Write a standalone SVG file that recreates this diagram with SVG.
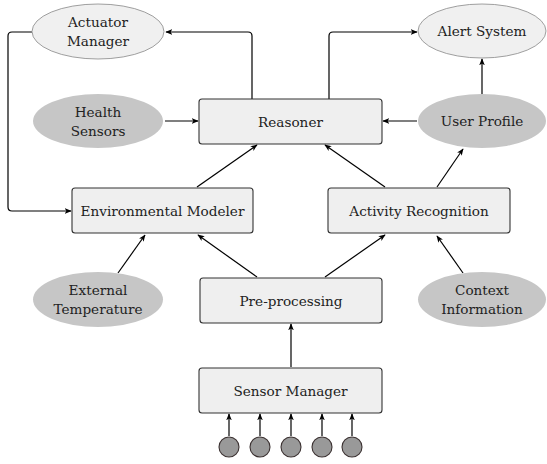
<svg xmlns="http://www.w3.org/2000/svg" width="547" height="464" viewBox="0 0 547 464">
<defs>
<marker id="ah" viewBox="0 0 10 10" refX="9" refY="5" markerWidth="7" markerHeight="7" markerUnits="userSpaceOnUse" orient="auto">
<path d="M0,1 L10,5 L0,9 L2.5,5 Z" fill="#000"/>
</marker>
<style>
.box{fill:#efefef;stroke:#333;stroke-width:1.1}
.el{fill:#f0f0f0;stroke:#888;stroke-width:0.8}
.dk{fill:#c6c6c6;stroke:none}
.dot{fill:#999;stroke:#3a3030;stroke-width:1.1}
.t{font-family:"DejaVu Serif","Liberation Serif",serif;font-size:13.6px;fill:#222;text-anchor:middle;dominant-baseline:central}
.c{fill:none;stroke:#000;stroke-width:1.2;marker-end:url(#ah)}
</style>
</defs>
<g id="connectors">
<path class="c" d="M252,99 V36 Q252,32 248,32 H166"/>
<path class="c" d="M329,99 V36 Q329,32 333,32 H417"/>
<path class="c" d="M32,32 H12 Q8,32 8,36 V207 Q8,211 12,211 H71"/>
<path class="c" d="M165,121 H198"/>
<path class="c" d="M417,121 H383"/>
<path class="c" d="M482,95 V59"/>
<path class="c" d="M197,187 L257,145"/>
<path class="c" d="M385,187 L325,145"/>
<path class="c" d="M437,187 L463,149"/>
<path class="c" d="M118,273 L145,235"/>
<path class="c" d="M257,277 L198,235"/>
<path class="c" d="M325,277 L385,235"/>
<path class="c" d="M463,273 L437,236"/>
<path class="c" d="M291,367 V324"/>
<path class="c" d="M229,436 V414"/>
<path class="c" d="M260,436 V414"/>
<path class="c" d="M291,436 V414"/>
<path class="c" d="M322,436 V414"/>
<path class="c" d="M352,436 V414"/>
</g>
<g id="actuator-manager"><ellipse class="el" cx="98" cy="31.5" rx="66" ry="27.5"/><text class="t" x="98" y="22">Actuator</text><text class="t" x="98" y="41">Manager</text></g>
<g id="alert-system"><ellipse class="el" cx="482" cy="31" rx="64" ry="27"/><text class="t" x="482" y="31">Alert System</text></g>
<g id="health-sensors"><ellipse class="dk" cx="98" cy="121" rx="65" ry="27"/><text class="t" x="98" y="112">Health</text><text class="t" x="98" y="131">Sensors</text></g>
<g id="reasoner"><rect class="box" x="199" y="99" width="183" height="45" rx="3"/><text class="t" x="290.5" y="121.5">Reasoner</text></g>
<g id="user-profile"><ellipse class="dk" cx="482" cy="121" rx="64" ry="27"/><text class="t" x="482" y="121">User Profile</text></g>
<g id="environmental-modeler"><rect class="box" x="72" y="188" width="181" height="45" rx="3"/><text class="t" x="162.5" y="210.5">Environmental Modeler</text></g>
<g id="activity-recognition"><rect class="box" x="328" y="188" width="182" height="45" rx="3"/><text class="t" x="419" y="210.5">Activity Recognition</text></g>
<g id="external-temperature"><ellipse class="dk" cx="98" cy="299.5" rx="65" ry="27.5"/><text class="t" x="98" y="290">External</text><text class="t" x="98" y="309">Temperature</text></g>
<g id="pre-processing"><rect class="box" x="200" y="278" width="182" height="45" rx="3"/><text class="t" x="291" y="300.5">Pre-processing</text></g>
<g id="context-information"><ellipse class="dk" cx="482" cy="299.5" rx="64" ry="27.5"/><text class="t" x="482" y="290">Context</text><text class="t" x="482" y="309">Information</text></g>
<g id="sensor-manager"><rect class="box" x="199" y="368" width="183" height="45" rx="3"/><text class="t" x="290.5" y="390.5">Sensor Manager</text></g>
<g id="sensors"><circle class="dot" cx="229" cy="447" r="10"/><circle class="dot" cx="260" cy="447" r="10"/><circle class="dot" cx="291" cy="447" r="10"/><circle class="dot" cx="322" cy="447" r="10"/><circle class="dot" cx="352" cy="447" r="10"/></g>
</svg>
